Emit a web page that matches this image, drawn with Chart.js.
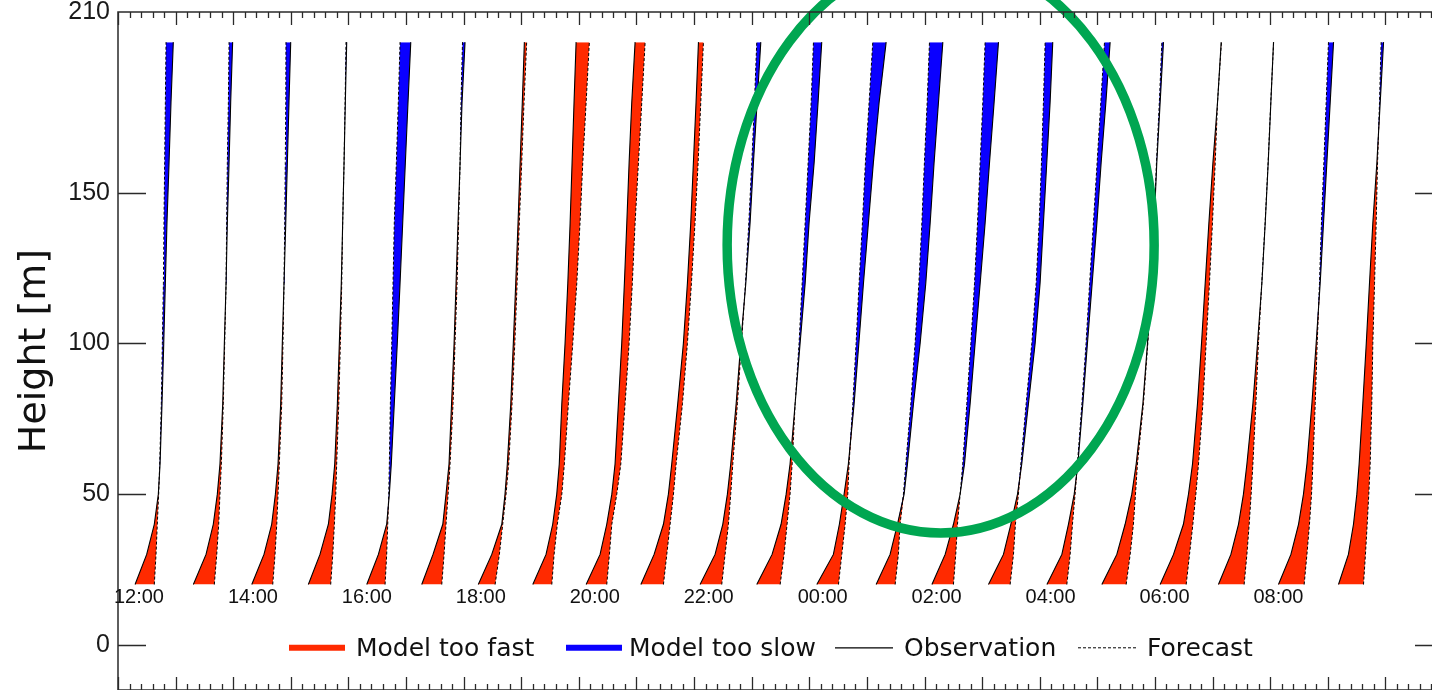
<!DOCTYPE html>
<html><head><meta charset="utf-8">
<script src="https://cdn.jsdelivr.net/npm/chart.js@4.4.1/dist/chart.umd.min.js"></script>
<style>
html,body{margin:0;padding:0;background:#fff;overflow:hidden;width:1432px;height:690px;}
#wrap{position:absolute;left:0;top:-8px;width:1460px;height:718px;}
</style></head><body>
<div id="wrap"><canvas id="c" width="1460" height="718"></canvas></div>
<script>
// ---------------- data ----------------
const hours = ['12:00','13:00','14:00','15:00','16:00','17:00','18:00','19:00','20:00','21:00','22:00','23:00',
               '00:00','01:00','02:00','03:00','04:00','05:00','06:00','07:00','08:00','09:00'];
const heights = [20,30,40,50,60,80,100,120,140,160,180,200];
// wind speed per hour, one value per height (axis units)
const observed = [
  [1.48,2.49,3.15,3.50,3.65,3.82,3.97,4.11,4.25,4.43,4.60,4.80],
  [1.54,2.64,3.27,3.62,3.85,4.09,4.23,4.38,4.49,4.64,4.78,4.95],
  [1.61,2.67,3.34,3.66,3.89,4.12,4.26,4.41,4.56,4.70,4.84,4.99],
  [1.52,2.53,3.26,3.58,3.81,4.04,4.21,4.38,4.50,4.62,4.73,4.85],
  [1.59,2.60,3.32,3.55,3.72,3.98,4.24,4.48,4.71,4.94,5.17,5.41],
  [1.36,2.34,3.19,3.47,3.73,3.95,4.17,4.34,4.51,4.69,4.86,5.12],
  [1.27,2.44,3.31,3.59,3.79,4.09,4.31,4.52,4.72,4.90,5.09,5.27],
  [1.00,2.15,2.73,3.08,3.30,3.52,3.80,4.04,4.24,4.41,4.58,4.76],
  [0.63,1.84,2.42,2.86,3.14,3.43,3.72,3.95,4.16,4.36,4.59,4.88],
  [0.38,1.53,2.34,2.77,3.06,3.58,4.07,4.42,4.71,4.94,5.17,5.38],
  [0.52,1.82,2.49,2.89,3.18,3.65,4.05,4.49,4.86,5.15,5.47,5.79],
  [0.44,1.77,2.55,2.99,3.33,3.77,4.20,4.64,4.98,5.42,5.76,6.08],
  [0.65,2.09,2.61,3.02,3.39,3.89,4.30,4.70,5.13,5.56,6.06,6.67],
  [0.80,2.01,2.65,3.23,3.52,4.04,4.62,5.11,5.49,5.83,6.21,6.59],
  [0.64,1.79,2.51,3.09,3.47,3.96,4.39,4.83,5.26,5.64,6.04,6.42],
  [0.55,1.85,2.49,3.07,3.44,4.02,4.60,5.03,5.32,5.61,5.90,6.13],
  [0.62,1.92,2.49,2.99,3.31,3.74,4.14,4.55,4.96,5.33,5.74,6.11],
  [0.39,1.69,2.41,2.99,3.37,3.95,4.35,4.67,4.93,5.16,5.45,5.74],
  [0.45,1.61,2.47,2.91,3.26,3.69,4.04,4.36,4.68,5.03,5.43,5.75],
  [0.51,1.59,2.25,2.68,2.98,3.50,3.90,4.28,4.57,4.83,5.06,5.29],
  [0.72,1.80,2.46,2.89,3.19,3.62,3.99,4.34,4.63,4.92,5.21,5.50],
  [0.93,1.79,2.23,2.52,2.72,3.04,3.34,3.62,3.91,4.26,4.55,4.84]
];
const forecast = [
  [3.15,3.30,3.41,3.53,3.62,3.76,3.85,3.94,3.99,4.05,4.11,4.17],
  [3.36,3.57,3.74,3.85,3.97,4.14,4.26,4.38,4.43,4.49,4.58,4.64],
  [3.43,3.63,3.78,3.89,4.00,4.21,4.32,4.41,4.47,4.52,4.56,4.58],
  [3.46,3.64,3.78,3.90,3.98,4.16,4.30,4.42,4.50,4.62,4.71,4.79],
  [3.18,3.32,3.41,3.50,3.55,3.64,3.76,3.87,3.98,4.16,4.33,4.48],
  [3.10,3.30,3.47,3.65,3.82,4.08,4.25,4.43,4.56,4.69,4.77,4.90],
  [2.73,3.10,3.39,3.68,3.91,4.20,4.44,4.64,4.83,5.04,5.24,5.47],
  [2.65,2.85,3.13,3.52,3.74,4.09,4.47,4.82,5.10,5.34,5.63,5.91],
  [2.42,2.65,2.86,3.29,3.64,4.01,4.36,4.64,4.88,5.17,5.46,5.75],
  [2.34,2.63,2.92,3.21,3.44,3.99,4.42,4.77,5.08,5.35,5.58,5.81],
  [2.40,2.69,2.98,3.18,3.36,3.76,4.11,4.46,4.75,5.01,5.24,5.44],
  [2.47,2.81,3.07,3.33,3.51,3.77,4.11,4.38,4.64,4.90,5.16,5.36],
  [2.53,2.82,3.11,3.34,3.45,3.78,4.06,4.32,4.61,4.87,5.19,5.51],
  [2.45,2.73,2.88,3.17,3.38,3.81,4.18,4.51,4.77,4.99,5.23,5.43],
  [2.51,2.71,2.86,3.09,3.32,3.67,4.02,4.34,4.60,4.83,5.06,5.26],
  [2.43,2.72,2.89,3.15,3.36,3.82,4.31,4.69,4.95,5.15,5.32,5.47],
  [2.35,2.64,2.84,3.07,3.27,3.66,4.02,4.33,4.66,4.98,5.30,5.62],
  [2.50,2.85,3.13,3.31,3.48,4.00,4.38,4.70,4.93,5.13,5.38,5.60],
  [2.71,3.00,3.29,3.55,3.78,4.16,4.44,4.73,4.99,5.23,5.43,5.77],
  [2.74,2.98,3.18,3.35,3.50,3.76,3.98,4.27,4.56,4.82,5.05,5.30],
  [2.95,3.19,3.41,3.59,3.71,3.91,4.08,4.28,4.45,4.66,4.86,5.06],
  [3.10,3.27,3.42,3.56,3.68,3.82,3.91,4.06,4.20,4.32,4.49,4.63]
];
const timeLabels = ['12:00','14:00','16:00','18:00','20:00','22:00','00:00','02:00','04:00','06:00','08:00'];
const timeLabelHourIndex = [0,2,4,6,8,10,12,14,16,18,20];
const yTickValues = [0,50,100,150,210];
const legendLabels = ['Model too fast','Model too slow','Observation','Forecast'];

// ---------------- styling / layout ----------------
const RED = '#ff2a00', BLUE = '#0a00ff', GREEN = '#00a651', AXIS = '#2a2a2a';
const HOUR_STEP = 5;          // axis units between consecutive hourly profiles
const X_MIN = 0, X_MAX = 115, Y_MIN = -15, Y_MAX = 210;

const datasets = [];
observed.forEach((obs, i) => {
  const fc = forecast[i];
  const base = i * HOUR_STEP;
  const obsIdx = datasets.length;
  datasets.push({label: 'Observation ' + hours[i], data: heights.map((h, k) => ({x: base + obs[k], y: h})),
    borderColor: '#000', borderWidth: 1.1, pointRadius: 0, fill: false, order: 0});
  datasets.push({label: 'Forecast ' + hours[i], data: heights.map((h, k) => ({x: base + fc[k], y: h})),
    borderColor: '#000', borderWidth: 1, borderDash: [3, 2], pointRadius: 0, fill: false, order: 0});
  datasets.push({label: 'too fast ' + hours[i], data: heights.map((h, k) => ({x: base + Math.max(obs[k], fc[k]), y: h})),
    borderWidth: 0, borderColor: 'rgba(0,0,0,0)', backgroundColor: RED, pointRadius: 0, fill: obsIdx, order: 1});
  datasets.push({label: 'too slow ' + hours[i], data: heights.map((h, k) => ({x: base + Math.min(obs[k], fc[k]), y: h})),
    borderWidth: 0, borderColor: 'rgba(0,0,0,0)', backgroundColor: BLUE, pointRadius: 0, fill: obsIdx, order: 1});
});

const decorPlugin = {
  id: 'decor',
  afterDatasetsDraw(chart) {
    const {ctx, scales: {x, y}} = chart;
    // highlight ellipse
    ctx.save();
    const cx = x.getPixelForValue(71.4), cy = y.getPixelForValue(132.7);
    const rx = x.getPixelForValue(71.4 + 18.53) - cx, ry = cy - y.getPixelForValue(132.7 + 95.6);
    ctx.strokeStyle = GREEN; ctx.lineWidth = 9.5;
    ctx.beginPath(); ctx.ellipse(cx, cy, rx, ry, 0, 0, Math.PI * 2); ctx.stroke();
    ctx.restore();
  },
  afterDraw(chart) {
    const {ctx, chartArea: a, scales: {x, y}} = chart;
    ctx.save();
    // frame
    ctx.strokeStyle = AXIS; ctx.lineWidth = 1.5;
    ctx.strokeRect(a.left, a.top, a.right - a.left, a.bottom - a.top);
    // x ticks (top & bottom, inward)
    ctx.lineWidth = 1.3;
    ctx.beginPath();
    for (let v = X_MIN; v <= X_MAX; v += 1) {
      const px = Math.round(x.getPixelForValue(v)) + 0.5;
      const len = v % 5 === 0 ? 13 : 6;
      ctx.moveTo(px, a.top); ctx.lineTo(px, a.top + len);
      ctx.moveTo(px, a.bottom); ctx.lineTo(px, a.bottom - len);
    }
    // y ticks (left & right, inward)
    yTickValues.forEach(v => {
      if (v >= Y_MAX) return;
      const py = Math.round(y.getPixelForValue(v)) + 0.5;
      ctx.moveTo(a.left, py); ctx.lineTo(a.left + 28, py);
      ctx.moveTo(a.right, py); ctx.lineTo(a.right - 28, py);
    });
    ctx.stroke();
    // time labels
    ctx.fillStyle = '#111';
    ctx.font = '20px "Liberation Sans", Arial, sans-serif';
    ctx.textAlign = 'center'; ctx.textBaseline = 'alphabetic';
    timeLabels.forEach((t, k) => {
      const xv = 1.82 + timeLabelHourIndex[k] * 4.945;
      ctx.fillText(t, x.getPixelForValue(xv), y.getPixelForValue(14.0));
    });
    // legend
    const ly = y.getPixelForValue(0) + 3, tb = y.getPixelForValue(0) + 11;
    ctx.font = '25px "DejaVu Sans", sans-serif';
    ctx.textAlign = 'left';
    const items = [
      {x0: 289, x1: 345, tx: 356, color: RED, w: 6, dash: []},
      {x0: 566, x1: 622, tx: 629, color: BLUE, w: 6, dash: []},
      {x0: 835, x1: 893, tx: 904, color: '#000', w: 1.2, dash: []},
      {x0: 1078, x1: 1136, tx: 1147, color: '#000', w: 1, dash: [3, 2]}
    ];
    items.forEach((it, k) => {
      ctx.beginPath(); ctx.setLineDash(it.dash);
      ctx.strokeStyle = it.color; ctx.lineWidth = it.w; ctx.lineCap = 'butt';
      ctx.moveTo(it.x0, ly); ctx.lineTo(it.x1, ly); ctx.stroke();
      ctx.setLineDash([]);
      ctx.fillStyle = '#111';
      ctx.fillText(legendLabels[k], it.tx, tb);
    });
    ctx.restore();
  }
};

Chart.defaults.font.family = '"Liberation Sans", Arial, sans-serif';
new Chart(document.getElementById('c'), {
  type: 'line',
  data: {datasets},
  options: {
    indexAxis: 'y',
    responsive: false,
    animation: false,
    events: [],
    layout: {padding: {top: 0, bottom: 0, left: 0, right: 17}},
    plugins: {legend: {display: false}, tooltip: {enabled: false}, filler: {propagate: false}},
    elements: {line: {tension: 0}},
    scales: {
      x: {type: 'linear', min: X_MIN, max: X_MAX, display: false},
      y: {
        type: 'linear', min: Y_MIN, max: Y_MAX, position: 'left',
        afterBuildTicks: s => { s.ticks = yTickValues.map(v => ({value: v})); },
        afterFit: s => { s.width = 118; },
        grid: {display: false, drawTicks: false},
        border: {display: false},
        ticks: {color: '#1a1a1a', padding: 8, font: {size: 25, lineHeight: 0.96}, callback: v => String(v)},
        title: {display: true, text: 'Height [m]', color: '#111', padding: {top: 12, bottom: 0},
                font: {family: '"DejaVu Sans", sans-serif', size: 38}}
      }
    }
  },
  plugins: [decorPlugin]
});
</script>
</body></html>
